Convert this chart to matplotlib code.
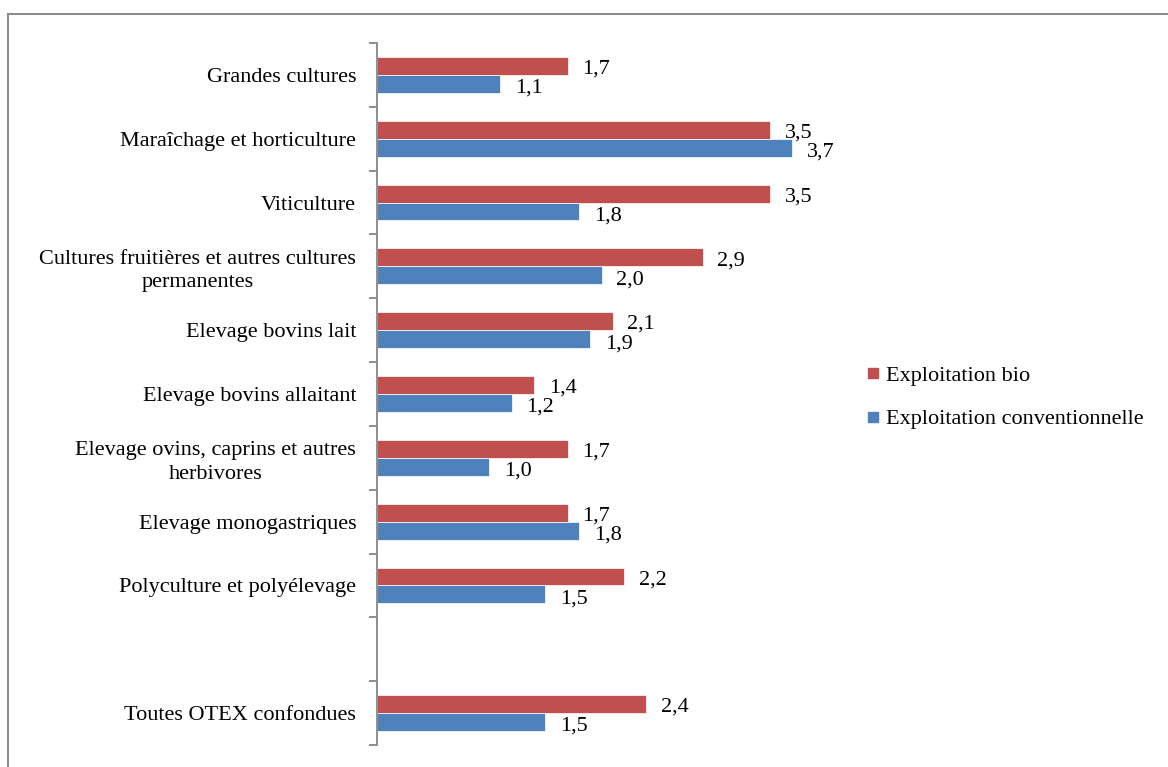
import numpy as np
import matplotlib.pyplot as plt
from matplotlib.lines import Line2D

plt.rcParams['font.family'] = ['Liberation Serif', 'DejaVu Serif']

# categories top to bottom, "" = empty slot
categories = ["Grandes cultures",
              "Maraîchage et horticulture",
              "Viticulture",
              "Cultures fruitières et autres cultures\npermanentes",
              "Elevage bovins lait",
              "Elevage bovins allaitant",
              "Elevage ovins, caprins et autres\nherbivores",
              "Elevage monogastriques",
              "Polyculture et polyélevage",
              "",
              "Toutes OTEX confondues"]
bio = [1.7, 3.5, 3.5, 2.9, 2.1, 1.4, 1.7, 1.7, 2.2, None, 2.4]
conv = [1.1, 3.7, 1.8, 2.0, 1.9, 1.2, 1.0, 1.8, 1.5, None, 1.5]

red = '#C0504D'
blue = '#4F81BD'
fs = 16

fig = plt.figure(figsize=(11.68, 7.67), dpi=100)
ax = fig.add_axes([377/1168, 1-745/767, 449/1168, 702/767])

n = len(categories)
pos = np.arange(n)
h = 0.28
for i in range(n):
    if bio[i] is None:
        continue
    ax.barh(pos[i] - h/2, bio[i], height=h, color=red, edgecolor='white', linewidth=0.5)
    ax.barh(pos[i] + h/2, conv[i], height=h, color=blue, edgecolor='white', linewidth=0.5)
    ax.text(bio[i] + 0.13, pos[i] - h/2 + 0.05, f"{bio[i]:.1f}".replace('.', ','),
            va='center', ha='left', fontsize=fs)
    ax.text(conv[i] + 0.13, pos[i] + h/2 + 0.07, f"{conv[i]:.1f}".replace('.', ','),
            va='center', ha='left', fontsize=fs)

ax.set_ylim(n - 0.5, -0.5)
ax.set_xlim(0, 4)
ax.set_yticks(np.arange(n + 1) - 0.5)
ax.set_yticklabels([])
ax.set_yticks(pos, minor=True)
ax.set_yticklabels(categories, minor=True, fontsize=fs, multialignment='center',
                   linespacing=1.3)
ax.tick_params(axis='y', which='major', length=6, width=1.3, color='#868686', direction='out')
ax.tick_params(axis='y', which='minor', length=0, pad=15)
ax.set_xticks([])
for s in ['top', 'right', 'bottom']:
    ax.spines[s].set_visible(False)
ax.spines['left'].set_color('#868686')
ax.spines['left'].set_linewidth(1.3)

handles = [Line2D([], [], marker='s', linestyle='', markersize=7.5, color=red),
           Line2D([], [], marker='s', linestyle='', markersize=7.5, color=blue)]
fig.legend(handles, ["Exploitation bio", "Exploitation conventionnelle"],
           loc='upper left', bbox_to_anchor=(842/1168, 1-345/767), frameon=False,
           fontsize=fs, handletextpad=0.1, labelspacing=1.05, handlelength=1.0)

# outer frame (top and left edges visible)
fig.add_artist(Line2D([8/1168, 8/1168], [0, 1-14/767], transform=fig.transFigure,
                      color='#8c8c8c', linewidth=1.5))
fig.add_artist(Line2D([8/1168, 1], [1-14/767, 1-14/767], transform=fig.transFigure,
                      color='#8c8c8c', linewidth=1.5))

fig.savefig('out.png', dpi=100)
